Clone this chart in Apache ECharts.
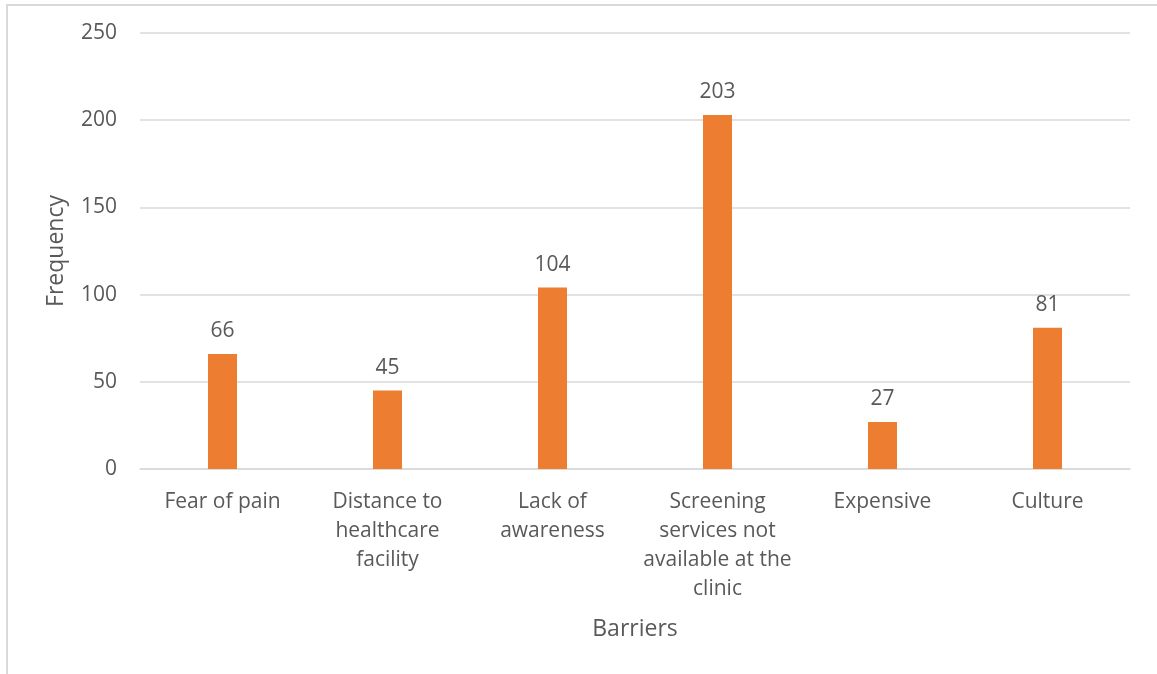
<!DOCTYPE html>
<html>
<head>
<meta charset="utf-8">
<script src="https://cdn.jsdelivr.net/npm/echarts@6/dist/echarts.min.js"></script>
<style>
  html, body { margin: 0; padding: 0; background: #fff; overflow: hidden; }
  #frame { position: absolute; left: 6px; top: 4px; width: 1200px; height: 700px;
           border-left: 2px solid #d9d9d9; border-top: 2px solid #d9d9d9; }
  #chart { position: absolute; left: 0; top: 0; width: 1157px; height: 674px; }
</style>
</head>
<body>
<div id="frame"></div>
<div id="chart"></div>
<script>
const categories = [
  'Fear of pain',
  'Distance to\nhealthcare\nfacility',
  'Lack of\nawareness',
  'Screening\nservices not\navailable at the\nclinic',
  'Expensive',
  'Culture'
];
const frequency = [66, 45, 104, 203, 27, 81];

const chart = echarts.init(document.getElementById('chart'));
const textColor = '#595959';
const font = "'Open Sans', 'Liberation Sans', sans-serif";

chart.setOption({
  backgroundColor: 'transparent',
  animation: false,
  grid: { left: 140, right: 27, top: 33, bottom: 205 },
  xAxis: {
    type: 'category',
    data: categories,
    name: 'Barriers',
    nameLocation: 'middle',
    nameGap: 149,
    nameTextStyle: { color: textColor, fontSize: 23, fontFamily: font },
    axisLine: { lineStyle: { color: '#d9d9d9', width: 1.5 } },
    axisTick: { show: false },
    axisLabel: {
      color: textColor, fontSize: 21, fontFamily: font,
      lineHeight: 29, margin: 19, interval: 0
    }
  },
  yAxis: {
    type: 'value',
    min: 0,
    max: 250,
    interval: 50,
    name: 'Frequency',
    nameLocation: 'middle',
    nameGap: 72,
    nameTextStyle: { color: textColor, fontSize: 23, fontFamily: font },
    axisLine: { show: false },
    axisTick: { show: false },
    axisLabel: { color: textColor, fontSize: 21, fontFamily: font, margin: 23 },
    splitLine: { lineStyle: { color: '#d9d9d9', width: 1.5 } }
  },
  series: [{
    type: 'bar',
    data: frequency,
    barWidth: 29,
    itemStyle: { color: '#ED7D31' },
    label: {
      show: true,
      position: 'top',
      distance: 12,
      color: textColor,
      fontSize: 21,
      fontFamily: font
    }
  }]
});
</script>
</body>
</html>
